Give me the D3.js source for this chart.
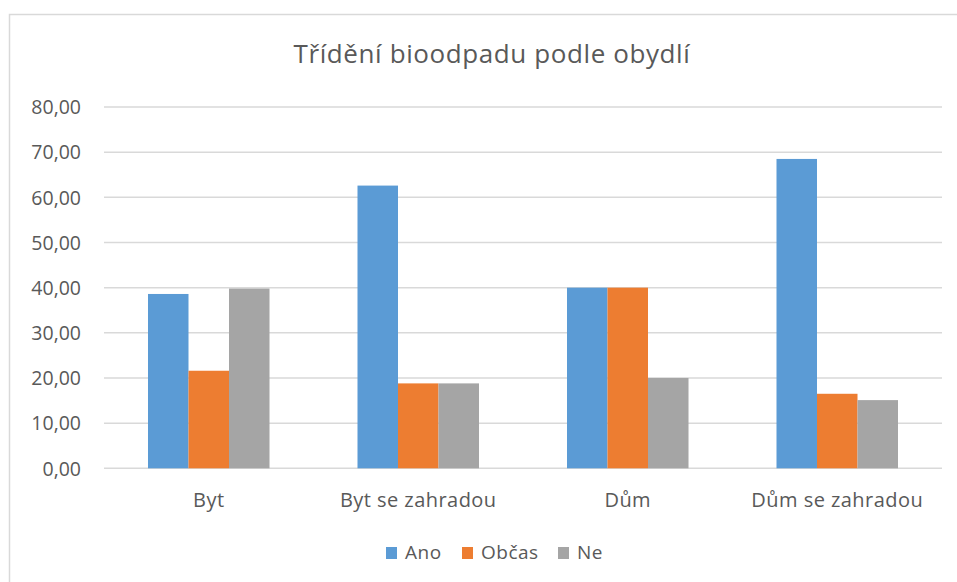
<!DOCTYPE html>
<html>
<head>
<meta charset="utf-8">
<script src="https://cdn.jsdelivr.net/npm/d3@7"></script>
<style>
  html, body { margin: 0; padding: 0; background: #fff; }
  svg { display: block; }
  text { font-family: "Open Sans", "Noto Sans", sans-serif; fill: #595959; }
</style>
</head>
<body>
<svg id="chart" width="957" height="582"></svg>
<script>
const title = "Třídění bioodpadu podle obydlí";
const categories = ["Byt", "Byt se zahradou", "Dům", "Dům se zahradou"];
const seriesNames = ["Ano", "Občas", "Ne"];
const seriesColors = ["#5b9bd5", "#ed7d31", "#a5a5a5"];
const ano   = [38.6, 62.6, 40.0, 68.5];
const obcas = [21.6, 18.8, 40.0, 16.5];
const ne    = [39.8, 18.8, 20.0, 15.1];
const yTicks = [0, 10, 20, 30, 40, 50, 60, 70, 80];

const seriesValues = [ano, obcas, ne];
const rows = categories.map((c, i) => ({
  cat: c,
  vals: seriesNames.map((s, j) => ({ series: s, value: seriesValues[j][i], color: seriesColors[j] }))
}));

const svg = d3.select("#chart");
const W = 957, H = 582;
const plot = { left: 104, right: 942, top: 107, bottom: 468.3 };

// chart border
svg.append("rect")
  .attr("x", 9.5).attr("y", 14.5)
  .attr("width", W + 20).attr("height", H + 20)
  .attr("fill", "none").attr("stroke", "#d9d9d9").attr("stroke-width", 1.5);

const x0 = d3.scaleBand().domain(categories).range([plot.left, plot.right])
  .paddingInner(0.42).paddingOuter(0.21);
const x1 = d3.scaleBand().domain(seriesNames).range([0, x0.bandwidth()]).padding(0);
const y = d3.scaleLinear().domain([0, 80]).range([plot.bottom, plot.top]);

// gridlines
svg.append("g").selectAll("line").data(yTicks).join("line")
  .attr("x1", plot.left).attr("x2", plot.right)
  .attr("y1", d => y(d)).attr("y2", d => y(d))
  .attr("stroke", "#d9d9d9").attr("stroke-width", 1.5);

// y axis labels
const yAxis = d3.axisLeft(y).tickValues(yTicks).tickSize(0).tickPadding(0)
  .tickFormat(d => d3.format(".2f")(d).replace(".", ","));
const gy = svg.append("g").attr("transform", `translate(${81},0)`).call(yAxis);
gy.select(".domain").remove();
gy.selectAll("text").attr("font-size", 19.5).attr("fill", "#595959")
  .style("font-family", '"Open Sans", sans-serif').attr("dy", "0.35em");

// bars
const groups = svg.append("g").selectAll("g").data(rows).join("g")
  .attr("transform", d => `translate(${x0(d.cat)},0)`);
groups.selectAll("rect").data(d => d.vals).join("rect")
  .attr("x", d => x1(d.series))
  .attr("width", x1.bandwidth())
  .attr("y", d => y(d.value))
  .attr("height", d => y(0) - y(d.value))
  .attr("fill", d => d.color);

// x axis labels
const xAxis = d3.axisBottom(x0).tickSize(0).tickPadding(0);
const gx = svg.append("g").attr("transform", `translate(0,${507})`).call(xAxis);
gx.select(".domain").remove();
gx.selectAll("text").attr("font-size", 20).attr("fill", "#595959")
  .style("font-family", '"Open Sans", sans-serif')
  .style("letter-spacing", "0.45px").attr("dy", 0).attr("y", 0);

// title
svg.append("text")
  .attr("x", 492).attr("y", 63.3)
  .attr("text-anchor", "middle")
  .attr("font-size", 26).attr("font-weight", 400)
  .style("letter-spacing", "0.6px")
  .text(title);

// legend
const legendItems = [
  { name: "Ano", sx: 386, tx: 405 },
  { name: "Občas", sx: 462, tx: 481 },
  { name: "Ne", sx: 558, tx: 577 }
];
const lg = svg.append("g");
legendItems.forEach((it, i) => {
  lg.append("rect").attr("x", it.sx).attr("y", 547).attr("width", 11).attr("height", 12)
    .attr("fill", seriesColors[i]);
  lg.append("text").attr("x", it.tx).attr("y", 559.3).attr("font-size", 19)
    .style("letter-spacing", "0.5px")
    .text(seriesNames[i]);
});
</script>
</body>
</html>
